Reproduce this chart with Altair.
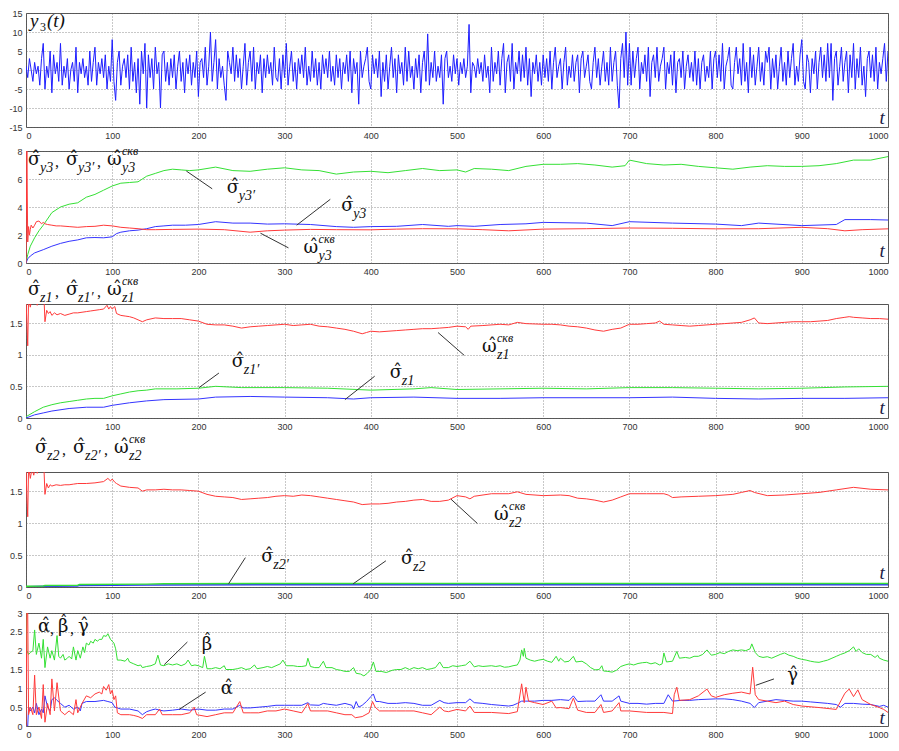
import altair as alt
import pandas as pd

# ---------------- data ----------------
# Panel 1: y3(t), read every 2 time steps
Y3_STEP = 2
Y3 = [1, -2, 3, 0, -3, 2, -1, 1, -4, 3, 7, -5, 1, -2, 5, -6, 4, -1, 2, -3,
      7, -4, 1, -2, 3, -5, 0, 2, -3, 6, -6, 2, -1, 3, -2, 1, -4, 5, -3, 2,
      6, -4, 2, -1, 3, -2, 4, -5, 1, -3,
      8, -3, -8, 2, 5, -4, 1, 3, -2, 4, -5, 6, -3, 2, -6, 3, -9, 5, -1, 7,
      -10, 4, -2, 3, -5, 6, -1, 2, -10, 4, 5, -3, 2, -4, 3, -2, 4, -5, 1, 5,
      -3, 2, -6, 3, -1, 4, -4, 2, -2, 5,
      -7, 2, 3, -2, 6, -4, 1, 10, -3, 2, 8, -5, 3, -2, 1, -4, -8, 5, 2, -1,
      6, -3, 4, -2, 3, -5, 1, 7, -4, 2, 5, -3, 6, -5, 2, -1, 4, -6, 3, -2,
      4, -1, 2, -4, 6, -2, -3, 3, -5, 4,
      -2, 7, -4, 1, 5, -3, 2, -5, 3, -1, 4, -2, 6, -4, 1, -3, 5, -2, 3, -4,
      2, -5, 4, -1, 3, -2, 5, -3, 1, -4, 4, -2, 3, -5, 2, -1, 4, -3, 5, -6,
      3, -1, 2, -9, 5, -2, 1, 3, 6, -3,
      -5, 4, -1, 3, -2, 5, -7, 2, -3, 4, -5, 1, 6, -2, 3, -6, 4, -1, 2, -4,
      6, -3, 5, -2, 1, -5, 3, -2, 4, -6, 2, 5, -3, 9.5, -4, 2, -2, 5, -3, 1,
      -2, 4, -9, 3, 5, -2, 1, -3, 4, -1,
      3, -4, 2, -1, 3, -2, 1, 12, -6, 2, 1, -2, 3, -1, 2, -3, 4, -2, 1, -6,
      6, -3, 2, -1, 5, -4, 3, 7, -6, 2, 4, -3, 7, -5, 2, -1, 5, -3, 4, -2,
      6, -4, 3, -7, 2, -1, 4, -3, 2, -4,
      4, -2, 3, -3, 5, -5, 2, 6, -2, 1, 3, -5, 2, 6, -4, 1, -2, 4, -3, 2,
      4, -6, 3, 5, -2, 1, 4, -3, -5, 2, 6, -2, 3, -4, 1, 5, -3, 2, -4, 6,
      -3, 2, 5, -4, -10, 3, 7, -2, 10, -4,
      7, -4, 5, -2, 3, 6, -5, 2, -1, 4, -3, 6, -7, 2, 4, -2, 6, -3, 1, 3,
      6, -5, 2, -1, 4, -4, 5, -6, 2, 3, -2, 5, -5, 1, 4, -2, 2, -3, 5, -4,
      3, -5, 2, 4, -3, 1, -2, 5, -5, 3,
      5, -2, 4, -3, 7, -5, 1, 3, 6, -4, -5, 2, 6, -1, 3, -4, 7, -3, 2, -6,
      6, -2, 4, -4, 1, 6, -3, 2, -4, 5, 2, 6, -5, 3, -2, 4, -5, 1, 6, -3,
      2, -4, 5, -2, 3, 7, -4, 1, -3, 4,
      8, -3, -5, 4, 2, -6, 3, -1, 5, -5, 2, 6, -2, 4, -3, 7, -2, 7, -8, 3,
      5, -4, 1, 6, -3, 2, 5, -6, 4, -2, 7, -5, 3, -2, 6, -4, 1, -7, 3, 5,
      -2, 4, -3, 6, -5, 2, -1, 3, 7, -3, 5]

# Panel 2
P2_GREEN = [(0, 0), (2, 0.6), (5, 1.2), (10, 1.8), (15, 2.3), (20, 2.7), (30, 3.6), (40, 4.0),
            (50, 4.2), (60, 4.3), (70, 4.7), (80, 4.9), (90, 5.2), (100, 5.5), (110, 5.7),
            (120, 5.75), (130, 5.8), (140, 6.2), (150, 6.4), (160, 6.6), (170, 6.7), (180, 6.65),
            (190, 6.6), (200, 6.65), (220, 6.85), (240, 6.6), (260, 6.55), (280, 6.7), (300, 6.8),
            (320, 6.65), (340, 6.6), (360, 6.35), (380, 6.5), (400, 6.55), (420, 6.45), (440, 6.6),
            (460, 6.75), (480, 6.6), (500, 6.65), (510, 6.5), (520, 6.75), (540, 6.7), (560, 6.6),
            (580, 6.9), (600, 7.05), (620, 7.05), (640, 7.1), (660, 7.0), (680, 6.85), (695, 6.95),
            (700, 7.35), (720, 7.1), (740, 7.0), (760, 7.05), (780, 6.9), (800, 6.8), (820, 6.7),
            (840, 6.85), (860, 6.95), (880, 6.9), (900, 6.9), (920, 6.95), (940, 7.1), (960, 7.35),
            (980, 7.35), (1000, 7.6)]
P2_BLUE = [(0, 0.0), (2, 0.3), (5, 0.5), (10, 0.72), (20, 0.95), (30, 1.2), (40, 1.4), (50, 1.55),
           (60, 1.65), (70, 1.8), (80, 1.82), (90, 1.8), (100, 1.87), (105, 2.1), (110, 2.2),
           (120, 2.3), (130, 2.35), (140, 2.45), (150, 2.6), (160, 2.65), (170, 2.7), (185, 2.7),
           (200, 2.75), (220, 2.95), (240, 2.85), (260, 2.85), (280, 2.78), (300, 2.8), (330, 2.75),
           (360, 2.6), (380, 2.55), (400, 2.6), (430, 2.62), (460, 2.75), (490, 2.62), (500, 2.67),
           (520, 2.62), (550, 2.75), (580, 2.8), (600, 2.9), (650, 2.85), (680, 2.67), (700, 2.95),
           (750, 2.85), (800, 2.78), (830, 2.67), (850, 2.85), (900, 2.67), (940, 2.75), (950, 3.1),
           (980, 3.1), (1000, 3.07)]
P2_RED = [(0, 0.0), (1, 8.0), (2, 1.5), (3, 2.6), (4, 2.0), (5, 2.4), (6, 2.7), (8, 2.5), (10, 2.7),
          (12, 2.95), (15, 3.0), (18, 2.8), (20, 2.9), (22, 2.8), (25, 2.75), (30, 2.7), (35, 2.65),
          (40, 2.65), (50, 2.6), (60, 2.55), (70, 2.6), (80, 2.62), (90, 2.7), (100, 2.65),
          (110, 2.55), (120, 2.5), (130, 2.45), (140, 2.38), (150, 2.38), (170, 2.4), (200, 2.42),
          (230, 2.38), (260, 2.2), (280, 2.3), (300, 2.35), (330, 2.4), (360, 2.38), (400, 2.37),
          (430, 2.42), (460, 2.45), (500, 2.44), (530, 2.38), (560, 2.3), (600, 2.42), (650, 2.45),
          (700, 2.5), (750, 2.48), (800, 2.44), (850, 2.45), (900, 2.55), (930, 2.45), (950, 2.3),
          (970, 2.38), (1000, 2.44)]

# Panel 3
P3_RED = [(0, 1.9), (1, 1.5), (2, 1.14), (3, 1.9), (5, 1.75), (7, 1.9), (9, 1.8), (11, 1.95),
          (13, 1.78), (15, 1.9), (17, 1.82), (19, 1.95), (21, 1.85), (22, 1.52), (24, 1.7),
          (26, 1.65), (28, 1.68), (30, 1.62), (33, 1.66), (36, 1.63), (40, 1.65), (45, 1.62),
          (50, 1.64), (55, 1.66), (60, 1.66), (65, 1.67), (70, 1.68), (75, 1.69), (80, 1.70),
          (85, 1.71), (90, 1.72), (94, 1.78), (96, 1.72), (98, 1.76), (100, 1.72), (103, 1.76),
          (105, 1.65), (110, 1.62), (115, 1.61), (120, 1.6), (125, 1.58), (130, 1.55), (135, 1.52),
          (140, 1.55), (150, 1.58), (160, 1.57), (170, 1.57), (180, 1.57), (190, 1.55), (200, 1.53),
          (210, 1.48), (220, 1.47), (230, 1.47), (240, 1.45), (250, 1.42), (260, 1.44), (270, 1.45),
          (280, 1.46), (290, 1.47), (300, 1.48), (310, 1.46), (320, 1.47), (330, 1.48), (340, 1.45),
          (350, 1.44), (360, 1.42), (370, 1.4), (380, 1.37), (390, 1.33), (395, 1.35), (400, 1.37),
          (410, 1.36), (420, 1.37), (430, 1.38), (440, 1.39), (450, 1.4), (460, 1.41), (470, 1.41),
          (480, 1.42), (490, 1.43), (500, 1.45), (510, 1.44), (513, 1.40), (516, 1.45), (530, 1.46),
          (550, 1.48), (560, 1.47), (570, 1.51), (580, 1.49), (600, 1.48), (610, 1.48), (620, 1.47),
          (630, 1.45), (640, 1.44), (650, 1.42), (660, 1.39), (670, 1.37), (680, 1.4), (690, 1.42),
          (700, 1.48), (710, 1.48), (720, 1.49), (730, 1.5), (735, 1.53), (740, 1.48), (750, 1.47),
          (760, 1.46), (770, 1.45), (780, 1.46), (790, 1.47), (800, 1.48), (810, 1.49), (820, 1.5),
          (830, 1.51), (840, 1.55), (845, 1.58), (850, 1.5), (860, 1.49), (870, 1.5), (880, 1.51),
          (890, 1.52), (900, 1.52), (910, 1.52), (920, 1.53), (930, 1.54), (940, 1.57), (950, 1.59),
          (955, 1.6), (960, 1.59), (970, 1.58), (980, 1.57), (990, 1.57), (1000, 1.56)]
P3_GREEN = [(0, 0.02), (10, 0.1), (20, 0.17), (30, 0.21), (40, 0.24), (50, 0.26), (60, 0.28),
            (70, 0.3), (80, 0.31), (90, 0.31), (100, 0.35), (110, 0.38), (120, 0.41), (130, 0.43),
            (140, 0.44), (150, 0.46), (175, 0.46), (200, 0.47), (220, 0.5), (250, 0.48), (300, 0.48),
            (350, 0.47), (400, 0.44), (450, 0.46), (470, 0.48), (500, 0.45), (550, 0.46), (600, 0.47),
            (650, 0.46), (700, 0.48), (750, 0.48), (800, 0.47), (850, 0.46), (900, 0.47), (950, 0.49),
            (1000, 0.5)]
P3_BLUE = [(0, 0.0), (10, 0.05), (20, 0.08), (30, 0.11), (50, 0.15), (70, 0.17), (90, 0.17),
           (100, 0.2), (120, 0.24), (140, 0.27), (160, 0.29), (200, 0.3), (220, 0.33), (260, 0.34),
           (300, 0.33), (350, 0.32), (380, 0.3), (400, 0.32), (450, 0.33), (500, 0.31), (550, 0.31),
           (600, 0.32), (700, 0.32), (750, 0.33), (800, 0.31), (850, 0.3), (900, 0.31), (950, 0.31),
           (1000, 0.32)]

# Panel 4
P4_RED = [(0, 1.9), (1, 1.4), (2, 1.1), (3, 1.9), (5, 1.7), (7, 1.85), (9, 1.75), (11, 1.9),
          (13, 1.78), (15, 1.85), (17, 1.8), (19, 1.9), (21, 1.8), (22, 1.45), (24, 1.62),
          (26, 1.55), (28, 1.6), (30, 1.58), (35, 1.6), (40, 1.59), (45, 1.6), (50, 1.6),
          (55, 1.61), (60, 1.62), (65, 1.62), (70, 1.62), (80, 1.63), (90, 1.65), (95, 1.7),
          (98, 1.66), (100, 1.69), (103, 1.64), (105, 1.62), (110, 1.58), (120, 1.56), (130, 1.55),
          (135, 1.5), (140, 1.52), (150, 1.52), (160, 1.53), (170, 1.52), (180, 1.52), (190, 1.51),
          (200, 1.5), (210, 1.45), (220, 1.42), (230, 1.41), (240, 1.4), (250, 1.37), (260, 1.38),
          (270, 1.39), (280, 1.4), (290, 1.42), (300, 1.43), (310, 1.42), (320, 1.44), (330, 1.43),
          (340, 1.41), (350, 1.39), (360, 1.37), (370, 1.35), (380, 1.33), (390, 1.29), (400, 1.3),
          (410, 1.3), (420, 1.31), (430, 1.33), (440, 1.34), (450, 1.36), (460, 1.37), (470, 1.34),
          (480, 1.34), (490, 1.36), (500, 1.43), (510, 1.41), (515, 1.38), (520, 1.42), (540, 1.46),
          (560, 1.46), (570, 1.49), (580, 1.45), (600, 1.43), (620, 1.44), (630, 1.43), (640, 1.39),
          (650, 1.38), (660, 1.36), (670, 1.33), (680, 1.36), (690, 1.41), (700, 1.46), (720, 1.46),
          (740, 1.46), (745, 1.44), (750, 1.40), (760, 1.41), (780, 1.42), (800, 1.43), (820, 1.45),
          (830, 1.48), (840, 1.51), (845, 1.48), (860, 1.43), (880, 1.44), (900, 1.46), (920, 1.48),
          (930, 1.5), (940, 1.52), (960, 1.56), (980, 1.53), (1000, 1.52)]
P4_GREEN = [(0, 0.012), (20, 0.017), (22, 0.022), (60, 0.028), (62, 0.04), (140, 0.045), (160, 0.05),
            (300, 0.055), (1000, 0.055)]
P4_BLUE = [(0, 0.005), (20, 0.01), (60, 0.015), (62, 0.025), (140, 0.03), (300, 0.035), (1000, 0.035)]

# Panel 5
P5_BETA = [(0, 3.0), (1, 2.0), (3, 1.9), (5, 1.95), (8, 2.0), (10, 2.55), (12, 1.9), (15, 2.2),
           (18, 1.8), (20, 2.3), (22, 1.55), (25, 2.1), (28, 1.8), (30, 2.0), (33, 1.75), (36, 2.4),
           (38, 1.85), (40, 1.8), (43, 1.9), (45, 1.75), (48, 1.8), (50, 1.85), (53, 1.78), (55, 2.1),
           (58, 1.75), (60, 2.0), (63, 1.8), (66, 2.1), (68, 1.95), (70, 2.2), (73, 2.15), (75, 2.25),
           (78, 2.2), (80, 2.3), (83, 2.25), (85, 2.3), (88, 2.3), (90, 2.4), (93, 2.38), (95, 2.45),
           (98, 2.3), (100, 2.25), (102, 2.2), (104, 2.05), (106, 1.75), (110, 1.75), (115, 1.72),
           (118, 1.8), (120, 1.7), (125, 1.65), (130, 1.6), (133, 1.62), (135, 1.55), (140, 1.58),
           (145, 1.6), (150, 1.65), (153, 1.88), (156, 1.62), (160, 1.6), (165, 1.65), (170, 1.62),
           (175, 1.65), (180, 1.6), (185, 1.65), (188, 1.75), (192, 1.6), (196, 1.62), (200, 1.6),
           (205, 1.55), (207, 1.85), (210, 1.52), (215, 1.52), (220, 1.55), (225, 1.52), (230, 1.6),
           (232, 1.5), (240, 1.5), (245, 1.52), (250, 1.55), (255, 1.5), (260, 1.52), (265, 1.62),
           (268, 1.52), (275, 1.55), (280, 1.58), (285, 1.55), (290, 1.6), (295, 1.65), (298, 1.75),
           (302, 1.6), (310, 1.6), (315, 1.58), (320, 1.58), (325, 1.6), (327, 1.8), (330, 1.58),
           (335, 1.55), (340, 1.55), (345, 1.72), (348, 1.55), (355, 1.55), (360, 1.5), (365, 1.48),
           (370, 1.45), (375, 1.45), (380, 1.55), (383, 1.4), (388, 1.38), (392, 1.33), (396, 1.4),
           (400, 1.5), (403, 1.7), (406, 1.45), (412, 1.45), (418, 1.42), (425, 1.48), (430, 1.5),
           (435, 1.5), (440, 1.55), (445, 1.5), (450, 1.55), (455, 1.52), (460, 1.55), (465, 1.5),
           (470, 1.52), (475, 1.55), (480, 1.7), (484, 1.55), (490, 1.55), (495, 1.6), (500, 1.58),
           (505, 1.6), (510, 1.62), (515, 1.72), (520, 1.57), (525, 1.6), (530, 1.58), (540, 1.6),
           (545, 1.58), (550, 1.6), (555, 1.56), (560, 1.57), (565, 1.6), (570, 1.62), (573, 1.75),
           (575, 2.02), (577, 1.85), (578, 2.06), (580, 1.8), (585, 1.75), (590, 1.72), (595, 1.75),
           (600, 1.77), (605, 1.72), (610, 1.69), (615, 1.85), (618, 1.72), (620, 1.8), (625, 1.7),
           (630, 1.72), (635, 1.85), (638, 1.7), (645, 1.72), (650, 1.65), (655, 1.55), (660, 1.49),
           (665, 1.5), (668, 1.6), (670, 1.46), (675, 1.45), (680, 1.43), (685, 1.48), (690, 1.58),
           (695, 1.62), (700, 1.65), (705, 1.62), (710, 1.66), (715, 1.68), (720, 1.69), (725, 1.65),
           (730, 1.68), (735, 1.62), (738, 1.65), (740, 1.94), (743, 1.7), (750, 1.72), (755, 1.98),
           (758, 1.8), (765, 1.82), (770, 1.8), (775, 1.85), (780, 1.85), (785, 1.9), (790, 2.02),
           (795, 1.88), (800, 1.9), (805, 1.95), (810, 1.92), (815, 1.98), (820, 2.02), (825, 2.0),
           (830, 2.02), (835, 2.0), (840, 2.05), (842, 2.18), (846, 1.95), (850, 1.85), (855, 1.82),
           (860, 1.84), (865, 1.8), (870, 1.85), (875, 1.9), (880, 1.94), (885, 1.88), (890, 1.85),
           (895, 1.8), (900, 1.77), (905, 1.75), (910, 1.72), (915, 1.7), (920, 1.69), (925, 1.72),
           (930, 1.75), (935, 1.8), (940, 1.85), (945, 1.9), (950, 1.94), (955, 2.0), (960, 2.1),
           (963, 1.98), (966, 2.05), (970, 1.95), (975, 1.9), (980, 1.9), (985, 1.82), (988, 1.88),
           (990, 1.8), (995, 1.75), (1000, 1.72)]
P5_ALPHA = [(0, 0.0), (2, 0.0), (3, 0.5), (5, 0.4), (8, 0.5), (10, 0.35), (12, 0.6), (15, 0.3),
            (18, 0.45), (20, 0.35), (22, 0.8), (25, 0.5), (28, 0.4), (30, 0.7), (33, 0.75), (36, 0.68),
            (40, 0.6), (45, 0.5), (50, 0.55), (55, 0.45), (60, 0.5), (63, 0.4), (65, 0.6), (70, 0.65),
            (80, 0.65), (90, 0.68), (95, 0.65), (100, 0.62), (103, 0.5), (106, 0.48), (110, 0.45),
            (120, 0.45), (130, 0.4), (135, 0.3), (140, 0.38), (145, 0.42), (150, 0.45), (155, 0.42),
            (160, 0.4), (170, 0.42), (180, 0.45), (190, 0.42), (200, 0.45), (210, 0.42), (220, 0.42),
            (230, 0.45), (240, 0.45), (248, 0.55), (252, 0.48), (260, 0.48), (270, 0.5), (280, 0.52),
            (290, 0.55), (300, 0.55), (310, 0.55), (320, 0.55), (327, 0.62), (330, 0.56), (340, 0.55),
            (345, 0.6), (350, 0.58), (360, 0.55), (370, 0.6), (378, 0.55), (380, 0.45), (383, 0.65),
            (386, 0.5), (390, 0.55), (395, 0.65), (400, 0.78), (403, 0.85), (406, 0.65), (410, 0.65),
            (420, 0.6), (430, 0.6), (440, 0.62), (450, 0.6), (460, 0.55), (470, 0.55), (480, 0.68),
            (485, 0.62), (490, 0.6), (500, 0.62), (510, 0.62), (515, 0.72), (520, 0.62), (530, 0.6),
            (540, 0.57), (550, 0.55), (560, 0.53), (565, 0.55), (570, 0.6), (575, 0.66), (580, 0.66),
            (590, 0.66), (600, 0.68), (610, 0.68), (620, 0.7), (630, 0.68), (635, 0.8), (640, 0.65),
            (650, 0.66), (660, 0.66), (667, 0.83), (670, 0.66), (680, 0.66), (688, 0.8), (690, 0.66),
            (700, 0.6), (710, 0.6), (720, 0.58), (730, 0.6), (740, 0.6), (745, 0.83), (750, 0.66),
            (760, 0.68), (770, 0.68), (780, 0.7), (790, 0.71), (800, 0.72), (810, 0.72), (820, 0.7),
            (830, 0.66), (840, 0.6), (845, 0.49), (850, 0.62), (860, 0.66), (870, 0.7), (880, 0.68),
            (890, 0.66), (900, 0.66), (910, 0.64), (920, 0.62), (930, 0.6), (940, 0.57), (945, 0.5),
            (950, 0.6), (960, 0.6), (970, 0.58), (980, 0.57), (990, 0.52), (995, 0.55), (1000, 0.5)]
P5_GAMMA = [(0, 0.0), (1, 3.0), (2, 3.0), (3, 0.3), (5, 0.5), (8, 0.3), (10, 1.35), (12, 0.3),
            (15, 0.5), (18, 0.2), (20, 1.1), (22, 0.1), (25, 0.6), (28, 0.3), (30, 1.25), (33, 0.4),
            (36, 1.15), (40, 0.4), (45, 0.3), (50, 0.4), (55, 0.3), (58, 0.7), (60, 0.35), (65, 0.6),
            (70, 0.8), (75, 0.75), (80, 0.85), (85, 0.9), (88, 0.85), (90, 1.05), (93, 0.95),
            (96, 1.1), (98, 0.85), (100, 0.95), (102, 0.7), (104, 0.8), (106, 0.35), (110, 0.3),
            (120, 0.3), (125, 0.28), (130, 0.25), (135, 0.2), (140, 0.3), (150, 0.3), (155, 0.45),
            (158, 0.3), (170, 0.3), (180, 0.3), (190, 0.35), (195, 0.5), (198, 0.3), (210, 0.25),
            (220, 0.3), (230, 0.35), (240, 0.35), (248, 0.65), (252, 0.35), (260, 0.35), (270, 0.35),
            (280, 0.4), (290, 0.4), (300, 0.45), (310, 0.4), (320, 0.35), (327, 0.6), (330, 0.4),
            (340, 0.4), (350, 0.4), (360, 0.35), (370, 0.3), (378, 0.3), (382, 0.22), (390, 0.25),
            (398, 0.35), (402, 0.65), (405, 0.5), (410, 0.4), (420, 0.4), (430, 0.4), (440, 0.4),
            (450, 0.4), (460, 0.35), (470, 0.3), (480, 0.5), (485, 0.4), (490, 0.38), (500, 0.44),
            (510, 0.4), (515, 0.53), (520, 0.36), (540, 0.36), (560, 0.33), (570, 0.38), (575, 1.12),
            (578, 0.62), (580, 1.03), (583, 0.66), (590, 0.62), (600, 0.57), (610, 0.66), (615, 0.48),
            (620, 0.49), (630, 0.46), (635, 0.74), (640, 0.42), (650, 0.36), (660, 0.36), (667, 0.57),
            (670, 0.36), (680, 0.4), (688, 0.62), (690, 0.4), (700, 0.4), (720, 0.36), (740, 0.36),
            (750, 0.33), (752, 0.83), (755, 1.03), (758, 0.68), (770, 0.7), (780, 0.8), (790, 0.98),
            (795, 0.8), (800, 0.76), (810, 0.83), (820, 0.87), (830, 0.9), (840, 0.85), (843, 1.56),
            (846, 0.83), (850, 0.7), (860, 0.66), (870, 0.62), (880, 0.66), (890, 0.57), (900, 0.53),
            (920, 0.49), (940, 0.44), (950, 0.87), (955, 0.98), (960, 0.78), (965, 0.96), (970, 0.7),
            (980, 0.57), (990, 0.49), (995, 0.44), (1000, 0.36)]

X_DOMAIN = [0, 1000]
X_TICKS = [0, 100, 200, 300, 400, 500, 600, 700, 800, 900, 1000]
P1_DOMAIN, P1_TICKS = [-15, 15], [-15, -10, -5, 0, 5, 10, 15]
P2_DOMAIN, P2_TICKS = [0, 8], [0, 2, 4, 6, 8]
P3_DOMAIN, P3_TICKS = [0, 1.8], [0, 0.5, 1, 1.5]
P4_DOMAIN, P4_TICKS = [0, 1.8], [0, 0.5, 1, 1.5]
P5_DOMAIN, P5_TICKS = [0, 3], [0, 0.5, 1, 1.5, 2, 2.5, 3]

# ---------------- style ----------------
W = 862
GREEN = "#35e035"
RED = "#ff3a3a"
BLUE = "#3535ff"
SERIF = "Liberation Serif"
GREEK = "DejaVu Serif"
ONE = pd.DataFrame({"k": [0]})
HAT = "\u0302"   # combining circumflex
SIG, OMG = "\u03c3", "\u03c9"
ALP, BET, GAM = "\u03b1", "\u03b2", "\u03b3"
SKV = "\u0441\u043a\u0432"
PR = "\u2032"
LABEL_EXPR = "'' + datum.value"


def xenc():
    return alt.X("t:Q", scale=alt.Scale(domain=X_DOMAIN, nice=False, zero=False),
                 axis=alt.Axis(values=X_TICKS, tickCount=20, title=None, labelExpr=LABEL_EXPR))


def yenc(domain, ticks):
    return alt.Y("v:Q", scale=alt.Scale(domain=domain, nice=False, zero=False),
                 axis=alt.Axis(values=ticks, tickCount=len(ticks) + 3, title=None,
                               labelExpr=LABEL_EXPR))


def line(df, color, domain, ticks, width=1.0):
    return alt.Chart(df).mark_line(color=color, strokeWidth=width, clip=True).encode(
        x=xenc(), y=yenc(domain, ticks))


def pairs(p):
    return pd.DataFrame(p, columns=["t", "v"])


def txt(t, v, s, dx=0, dy=0, size=20, italic=False, color="#111111", font=SERIF):
    return alt.Chart(ONE).mark_text(
        text=s, dx=dx, dy=dy, fontSize=size, font=font,
        fontStyle="italic" if italic else "normal",
        align="left", baseline="alphabetic", color=color,
    ).encode(x=alt.datum(t), y=alt.datum(v))


def hatted(t, v, ch, dx=0):
    return [txt(t, v, ch + HAT, dx=dx, size=18, font=GREEK)]


def beta_hat(t, v, dx=0):
    # beta has an ascender, so its hat is drawn as a separate raised circumflex
    return [txt(t, v, BET, dx=dx, size=18, font=GREEK),
            txt(t, v, "\u02c6", dx=dx + 2, dy=-6, size=15, font=GREEK)]


def sym(t, v, ch, sub=None, sup=None, dx=0, sdx=12):
    out = hatted(t, v, ch, dx=dx)
    if sub:
        out.append(txt(t, v, sub, dx=dx + sdx, dy=7, size=14, italic=True))
    if sup:
        out.append(txt(t, v, sup, dx=dx + sdx, dy=-10, size=12, italic=True))
    return out


def title3(t, v, sub):
    out = []
    out += sym(t, v, SIG, sub)
    out.append(txt(t, v, ",", dx=27, dy=2, size=16))
    out += sym(t, v, SIG, sub + PR, dx=38)
    out.append(txt(t, v, ",", dx=69, dy=2, size=16))
    out += sym(t, v, OMG, sub, SKV, dx=79, sdx=15)
    return out


def leader(t1, v1, t2, v2):
    return alt.Chart(ONE).mark_rule(color="#333333", strokeWidth=1).encode(
        x=alt.datum(t1), y=alt.datum(v1), x2=alt.datum(t2), y2=alt.datum(v2))


def tmark(v):
    return txt(990, v, "t", size=19, italic=True, color="#1c1c48")


# ---------------- panels ----------------
y3_df = pd.DataFrame({"t": [i * Y3_STEP for i in range(len(Y3))], "v": Y3})
p1 = alt.layer(
    line(y3_df, "#1e1eff", P1_DOMAIN, P1_TICKS),
    txt(4.6, 11.3, "y", size=19, italic=True),
    txt(4.6, 11.3, "3", dx=10, dy=4, size=12),
    txt(4.6, 11.3, "(t)", dx=17, size=19, italic=True),
    tmark(-14.2),
).properties(width=W, height=114)

p2 = alt.layer(
    line(pairs(P2_GREEN), GREEN, P2_DOMAIN, P2_TICKS),
    line(pairs(P2_BLUE), BLUE, P2_DOMAIN, P2_TICKS),
    line(pairs(P2_RED), RED, P2_DOMAIN, P2_TICKS),
    *title3(2.3, 7.0, "y3"),
    leader(186, 6.57, 216, 5.3), *sym(233, 5.0, SIG, "y3" + PR),
    leader(314, 2.7, 353, 4.55), *sym(365.6, 3.68, SIG, "y3"),
    leader(272, 2.13, 304.5, 1.08), *sym(322, 0.73, OMG, "y3", SKV, sdx=15),
    tmark(0.45),
).properties(width=W, height=112)

p3 = alt.layer(
    line(pairs(P3_GREEN), GREEN, P3_DOMAIN, P3_TICKS),
    line(pairs(P3_BLUE), BLUE, P3_DOMAIN, P3_TICKS),
    line(pairs(P3_RED), RED, P3_DOMAIN, P3_TICKS),
    *title3(2.3, 1.94, "z1"),
    leader(200.7, 0.48, 223.8, 0.71), *sym(238.8, 0.80, SIG, "z1" + PR),
    leader(370, 0.29, 404.5, 0.66), *sym(422, 0.63, SIG, "z1"),
    leader(478, 1.35, 508.3, 0.99), *sym(529, 1.04, OMG, "z1", SKV, sdx=15),
    tmark(0.06),
).properties(width=W, height=114)

p4 = alt.layer(
    line(pairs(P4_BLUE), BLUE, P4_DOMAIN, P4_TICKS, 1.5),
    line(pairs(P4_GREEN), GREEN, P4_DOMAIN, P4_TICKS, 1.5),
    line(pairs(P4_RED), RED, P4_DOMAIN, P4_TICKS),
    *title3(10.4, 2.09, "z2"),
    leader(235, 0.05, 254.5, 0.46), *sym(273, 0.39, SIG, "z2" + PR),
    leader(379.5, 0.05, 417.5, 0.41), *sym(435, 0.36, SIG, "z2"),
    leader(493, 1.375, 523.6, 0.995), *sym(543, 1.05, OMG, "z2", SKV, sdx=15),
    tmark(0.12),
).properties(width=W, height=115)

p5 = alt.layer(
    line(pairs(P5_BETA), GREEN, P5_DOMAIN, P5_TICKS),
    line(pairs(P5_ALPHA), BLUE, P5_DOMAIN, P5_TICKS),
    line(pairs(P5_GAMMA), RED, P5_DOMAIN, P5_TICKS),
    *hatted(14, 2.49, ALP), txt(14, 2.49, ",", dx=12, dy=2, size=16),
    *beta_hat(14, 2.49, dx=20), txt(14, 2.49, ",", dx=32, dy=2, size=16),
    *hatted(14, 2.49, GAM, dx=40),
    leader(160.4, 1.63, 187.2, 2.23), *beta_hat(204, 2.03),
    leader(177.6, 0.44, 208.4, 0.9), *hatted(226, 0.85, ALP),
    leader(846.6, 1.08, 867.7, 1.25), *hatted(883, 1.2, GAM),
    tmark(0.05),
).properties(width=W, height=113)

c45 = alt.vconcat(p4, p5, spacing=26, bounds="flush")
c345 = alt.vconcat(p3, c45, spacing=54, bounds="flush")
c2345 = alt.vconcat(p2, c345, spacing=41, bounds="flush")
chart = alt.vconcat(p1, c2345, spacing=24, bounds="flush").properties(
    padding={"left": 0, "top": 0, "right": 0, "bottom": 0},
    background="white",
).configure_view(
    stroke="#555555", strokeWidth=1
).configure_axis(
    labelFont="Liberation Sans", labelFontSize=9, labelColor="#333333",
    ticks=False, labelPadding=4, domain=False,
    grid=True, gridDash=[1, 2], gridColor="#666666", gridOpacity=0.9, gridWidth=0.8,
)

chart.save("out.html", embed_options={"renderer": "svg", "actions": False})
